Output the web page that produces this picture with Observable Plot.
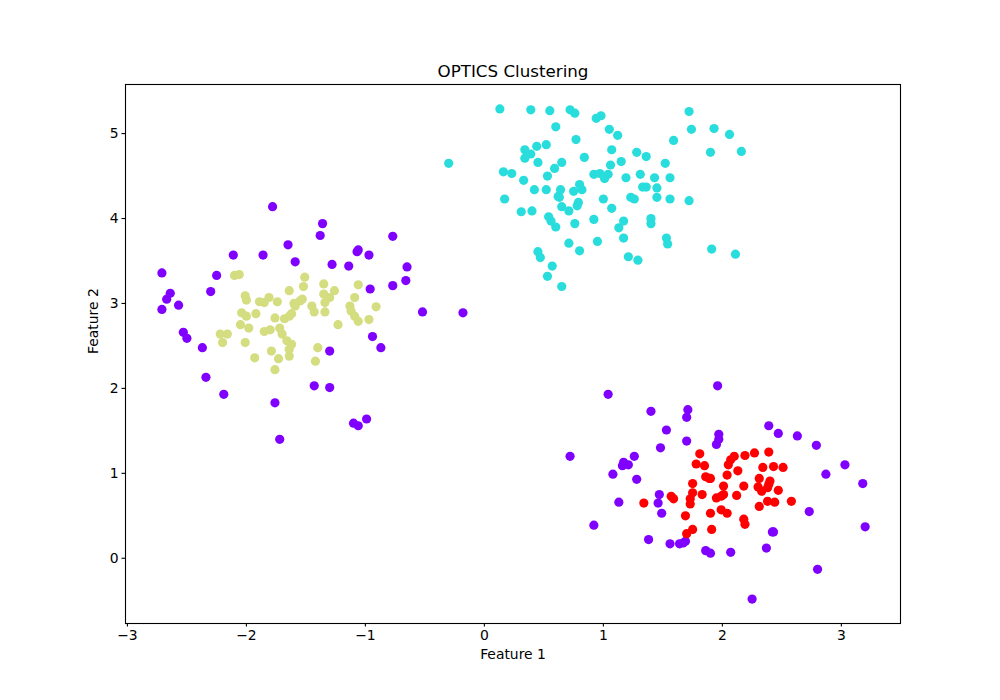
<!DOCTYPE html>
<html>
<head>
<meta charset="utf-8">
<script src="https://cdn.jsdelivr.net/npm/d3@7"></script>
<script src="https://cdn.jsdelivr.net/npm/@observablehq/plot@0.6"></script>
<style>
  html, body { margin: 0; padding: 0; background: #fff; }
  #chart { width: 1000px; height: 700px; }
</style>
</head>
<body>
<div id="chart"></div>
<script>
const chartTitle = "OPTICS Clustering";
const xLabel = "Feature 1";
const yLabel = "Feature 2";
const xTicks = [-3, -2, -1, 0, 1, 2, 3];
const yTicks = [0, 1, 2, 3, 4, 5];
const clusterLabels = [-1, 0, 1, 2];
const clusterColors = ["#8000ff", "#2adddd", "#d4dd80", "#ff0000"];

// label -1 (noise)
const noisePoints = [
  [-1.78,4.14],[-2.11,3.57],[-1.86,3.57],[-1.65,3.69],[-1.59,3.49],[-2.71,3.36],[-2.25,3.33],
  [-2.30,3.14],[-2.64,3.12],[-2.67,3.05],[-2.57,2.98],[-2.71,2.93],[-2.53,2.66],[-2.50,2.59],
  [-2.37,2.48],[-2.34,2.13],[-2.19,1.93],[-1.76,1.83],[-1.72,1.40],
  [-1.36,3.94],[-1.38,3.80],[-0.77,3.79],[-1.07,3.61],[-1.06,3.63],[-0.97,3.57],[-1.28,3.46],
  [-1.14,3.44],[-0.65,3.43],[-0.66,3.27],[-0.77,3.21],[-0.96,3.17],[-0.52,2.90],[-0.18,2.89],
  [-0.94,2.61],[-0.87,2.48],[-1.30,2.44],[-1.43,2.03],[-1.30,2.01],[-1.10,1.59],[-1.06,1.56],[-0.99,1.64],
  [1.04,1.93],[1.40,1.73],[1.71,1.75],[1.70,1.66],[1.96,2.03],[1.53,1.51],[1.70,1.38],
  [1.97,1.46],[1.97,1.40],[1.95,1.34],[1.48,1.30],[0.72,1.20],[1.26,1.20],[1.17,1.13],
  [1.16,1.09],[1.21,1.10],[1.08,0.99],[1.28,0.93],
  [2.39,1.56],[2.47,1.47],[2.63,1.44],[2.79,1.33],[3.03,1.10],[2.87,0.99],[3.18,0.88],
  [1.13,0.66],[1.47,0.75],[1.46,0.65],[1.49,0.53],[0.92,0.39],[1.38,0.22],[1.56,0.17],
  [1.64,0.17],[1.67,0.18],[1.69,0.20],[1.86,0.09],[1.90,0.06],
  [2.73,0.55],[3.20,0.37],[2.42,0.31],[2.43,0.31],[2.07,0.07],[2.37,0.12],[2.80,-0.13],[2.25,-0.48]
];

// label 0 (cyan)
const cluster0Points = [
  [0.13,5.29],[0.39,5.28],[0.55,5.27],[0.72,5.28],[0.76,5.24],[0.94,5.18],[0.98,5.21],[0.60,5.08],
  [0.77,4.93],[0.34,4.81],[0.39,4.76],[0.44,4.85],[0.52,4.87],[0.34,4.71],[0.45,4.66],[0.65,4.66],
  [0.59,4.59],[0.84,4.72],[-0.30,4.65],[0.16,4.55],[0.23,4.53],[0.53,4.50],[0.33,4.45],[0.42,4.34],
  [0.52,4.34],[0.64,4.34],[0.62,4.26],[0.75,4.32],[0.80,4.40],[0.82,4.34],[0.92,4.52],[0.97,4.53],
  [0.17,4.23],[1.72,5.26],[1.05,5.05],[1.12,4.98],[1.74,5.05],[1.93,5.06],[2.06,4.99],[1.59,4.92],
  [1.07,4.81],[1.28,4.78],[1.36,4.73],[1.90,4.78],[2.16,4.79],[1.15,4.67],[1.06,4.63],[1.52,4.65],
  [1.04,4.52],[1.01,4.47],[1.19,4.48],[1.31,4.52],[1.43,4.48],[1.56,4.48],[1.33,4.37],[1.36,4.37],
  [1.45,4.36],[1.00,4.23],[1.23,4.25],[1.26,4.23],[1.45,4.25],[1.56,4.23],[1.72,4.21],
  [0.31,4.08],[0.40,4.09],[0.54,4.02],[0.56,3.97],[0.60,3.90],[0.63,4.25],[0.65,4.14],[0.71,4.09],
  [0.79,4.19],[0.78,4.15],[0.76,3.94],[0.92,3.99],[0.71,3.71],[0.80,3.62],[0.95,3.73],[0.45,3.61],
  [0.47,3.54],[0.57,3.44],[0.53,3.32],[0.65,3.20],[1.07,4.12],[1.17,3.97],[1.13,3.89],[1.40,4.00],
  [1.40,3.94],[1.17,3.77],[1.53,3.77],[1.54,3.70],[1.91,3.64],[2.11,3.58],[1.21,3.55],[1.29,3.51]
];

// label 1 (yellow)
const cluster1Points = [
  [-2.10,3.33],[-2.06,3.34],[-1.51,3.31],[-1.52,3.20],[-1.64,3.15],[-2.01,3.09],[-2.00,3.04],
  [-1.89,3.02],[-1.85,3.01],[-1.81,3.07],[-1.74,3.02],[-1.55,3.03],[-1.59,2.97],[-1.60,3.00],
  [-2.04,2.89],[-2.00,2.85],[-1.92,2.88],[-1.76,2.83],[-1.68,2.82],[-1.64,2.85],[-1.62,2.88],
  [-2.05,2.75],[-1.98,2.71],[-1.85,2.67],[-1.80,2.69],[-1.72,2.71],[-1.70,2.64],[-2.22,2.64],
  [-2.16,2.64],[-2.20,2.54],[-2.01,2.54],[-1.66,2.56],[-1.62,2.52],[-1.64,2.46],[-1.79,2.44],
  [-1.73,2.35],[-1.64,2.38],[-1.93,2.36],[-1.76,2.22],[-1.42,2.32],[-1.40,2.48],
  [-1.35,3.23],[-1.06,3.22],[-1.35,3.11],[-1.26,3.15],[-1.34,3.01],[-1.30,3.07],[-1.09,3.07],
  [-1.45,2.97],[-1.43,2.90],[-1.34,2.90],[-1.13,2.97],[-1.12,2.91],[-0.91,2.96],[-1.53,3.05],
  [-1.09,2.85],[-0.97,2.81],[-1.06,2.79],[-1.23,2.75]
];

// label 2 (red)
const cluster2Points = [
  [1.81,1.23],[1.78,1.11],[1.85,1.09],[1.86,0.96],[1.89,0.94],[1.75,0.88],
  [2.39,1.25],[2.27,1.24],[2.19,1.21],[2.10,1.20],[2.07,1.16],[2.05,1.10],[2.13,1.03],[2.04,0.98],
  [2.34,1.07],[2.43,1.08],[2.51,1.07],[2.31,0.94],[2.40,0.91],[1.90,0.94],
  [2.01,0.85],[2.18,0.85],[2.30,0.84],[2.38,0.83],[2.47,0.80],
  [1.34,0.65],[1.57,0.73],[1.59,0.70],[1.75,0.77],[1.73,0.70],[1.73,0.64],[1.83,0.75],
  [1.95,0.71],[1.99,0.73],[1.90,0.53],[1.99,0.57],[1.69,0.50],[1.91,0.34],[1.75,0.34],[1.70,0.29],
  [2.39,0.87],[2.33,0.79],[2.01,0.75],[2.12,0.74],[2.04,0.53],[2.31,0.61],[2.38,0.67],[2.44,0.66],
  [2.58,0.67],[2.18,0.46],[2.19,0.40]
];

const groups = [noisePoints, cluster0Points, cluster1Points, cluster2Points];
const data = groups.flatMap((pts, i) => pts.map(([x, y]) => ({x, y, label: clusterLabels[i]})));

const fmt = d => (d < 0 ? "\u2212" + Math.abs(d) : String(d));

const chart = Plot.plot({
  width: 1000,
  height: 700,
  marginLeft: 125,
  marginRight: 100,
  marginTop: 84,
  marginBottom: 77,
  style: {fontFamily: "DejaVu Sans, sans-serif", fontSize: "13.9px", background: "#fff", color: "#000"},
  x: {domain: [-3.016, 3.497]},
  y: {domain: [-0.768, 5.578]},
  color: {domain: clusterLabels, range: clusterColors},
  marks: [
    Plot.dot(data, {x: "x", y: "y", fill: "label", r: 4.6, stroke: null}),
    Plot.frame({stroke: "#000", strokeWidth: 1.1}),
    Plot.axisX({ticks: xTicks, tickFormat: fmt, tickSize: 3.5, tickPadding: 3.5, label: null, fontSize: 13.9, stroke: "#000", strokeWidth: 1.1}),
    Plot.axisY({ticks: yTicks, tickFormat: fmt, tickSize: 3.5, tickPadding: 3.5, label: null, fontSize: 13.9, stroke: "#000", strokeWidth: 1.1}),
    Plot.text([chartTitle], {frameAnchor: "top", dy: -19, fontSize: 16.7, fill: "#000"}),
    Plot.text([xLabel], {frameAnchor: "bottom", dy: 35, fontSize: 13.9, fill: "#000"}),
    Plot.text([yLabel], {frameAnchor: "left", dx: -32, rotate: -90, fontSize: 13.9, fill: "#000"})
  ]
});
document.getElementById("chart").appendChild(chart);
</script>
</body>
</html>
